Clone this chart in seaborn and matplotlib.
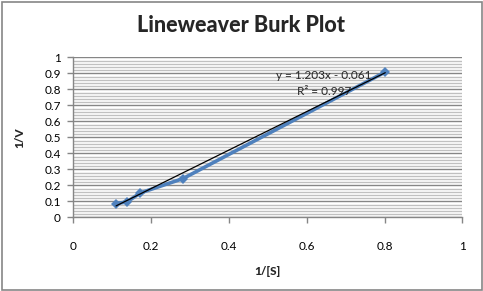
import numpy as np
import pandas as pd
import matplotlib
matplotlib.use("Agg")
import matplotlib.pyplot as plt
import seaborn as sns
from matplotlib.ticker import MultipleLocator
from matplotlib.patches import Rectangle

# data
inv_s = [0.110, 0.138, 0.172, 0.282, 0.802]
inv_v = [0.086, 0.096, 0.152, 0.242, 0.908]
slope = 1.203
intercept = -0.061
eq_text = "y = 1.203x - 0.061"
r2_text = "R² = 0.997"
title = "Lineweaver Burk Plot"
xlabel = "1/[S]"
ylabel = "1/V"
xticks = [0, 0.2, 0.4, 0.6, 0.8, 1]
yticks = [0, 0.1, 0.2, 0.3, 0.4, 0.5, 0.6, 0.7, 0.8, 0.9, 1]

sns.set_theme(style="white")
plt.rcParams['font.family'] = ['Lato', 'DejaVu Sans']

df = pd.DataFrame({"x": inv_s, "y": inv_v})
trend_x = [min(inv_s), max(inv_s)]
trend = pd.DataFrame({"x": trend_x, "y": [slope * v + intercept for v in trend_x]})

fig = plt.figure(figsize=(4.83, 2.91), dpi=100)
ax = fig.add_axes([73.3 / 483, 1 - 217.3 / 291, (462.3 - 73.3) / 483, (217.3 - 57.3) / 291])

# grid
ax.set_xlim(0, 1)
ax.set_ylim(0, 1)
ax.yaxis.set_major_locator(MultipleLocator(0.1))
ax.yaxis.set_minor_locator(MultipleLocator(0.02))
ax.set_xticks(xticks)
ax.set_yticks(yticks)
ax.grid(False)
ax.yaxis.grid(True, which="minor", color="#c0c0c0", linewidth=1.0)
ax.yaxis.grid(True, which="major", color="#868686", linewidth=1.0)
ax.set_axisbelow(True)

sns.lineplot(data=df, x="x", y="y", ax=ax, color="#4f81bd", linewidth=2.6,
             marker="D", markersize=5.5, markeredgewidth=0, zorder=3)
sns.lineplot(data=trend, x="x", y="y", ax=ax, color="black", linewidth=0.9, zorder=4)

for s in ["top", "right"]:
    ax.spines[s].set_visible(False)
for s in ["left", "bottom"]:
    ax.spines[s].set_color("#868686")
    ax.spines[s].set_linewidth(1.0)

ax.tick_params(axis="both", which="major", direction="out", length=4, width=1,
               color="#868686", labelsize=8.5, labelcolor="black", left=True, bottom=True)
ax.tick_params(axis="y", which="minor", left=False)
ax.tick_params(axis="x", pad=13)
ax.tick_params(axis="y", pad=5)
ax.set_xticklabels([f"{t:g}" for t in xticks])
ax.set_yticklabels([f"{t:g}" for t in yticks])

ax.set_xlabel(xlabel, fontdict={"fontsize": 8.5, "fontweight": "black"})
ax.set_ylabel(ylabel, fontdict={"fontsize": 8.5, "fontweight": "black"})
ax.xaxis.set_label_coords((267 - 73.3) / 389, -(266 - 217.3) / 160)
ax.yaxis.set_label_coords(-(73.3 - 25) / 389, (217.3 - 138) / 160)

fig.text(241 / 483, 1 - 25 / 291, title, ha="center", va="center",
         fontsize=15.5, fontweight="black")

ax.text((323.5 - 73.3) / 389, (217.3 - 75.7) / 160, eq_text, transform=ax.transAxes,
        ha="center", va="center", fontsize=8.5)
ax.text((324.5 - 73.3) / 389, (217.3 - 91.7) / 160, r2_text, transform=ax.transAxes,
        ha="center", va="center", fontsize=8.5)

fig.patches.append(Rectangle((1.5 / 483, 1.5 / 291), 480 / 483, 287.5 / 291,
                             transform=fig.transFigure, fill=False,
                             edgecolor="#868686", linewidth=1.2))

fig.savefig("out.png", dpi=100)
